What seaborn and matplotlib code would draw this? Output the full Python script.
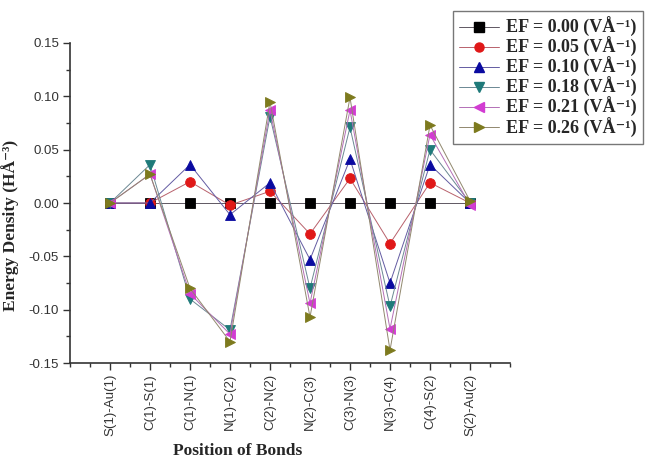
import numpy as np
import pandas as pd
import matplotlib
matplotlib.use("Agg")
import matplotlib.pyplot as plt
from matplotlib.lines import Line2D
from matplotlib.ticker import MultipleLocator
import matplotlib.colors as mcolors
import seaborn as sns

bonds = ["S(1)-Au(1)", "C(1)-S(1)", "C(1)-N(1)", "N(1)-C(2)", "C(2)-N(2)",
         "N(2)-C(3)", "C(3)-N(3)", "N(3)-C(4)", "C(4)-S(2)", "S(2)-Au(2)"]

ef_labels = ["0.00", "0.05", "0.10", "0.18", "0.21", "0.26"]

ef_000 = [0.000, 0.000, 0.000, 0.000, 0.000, 0.000, 0.000, 0.000, 0.000, 0.000]
ef_005 = [0.000, 0.000, 0.020, -0.002, 0.011, -0.029, 0.023, -0.038, 0.019, 0.000]
ef_010 = [0.000, 0.000, 0.036, -0.011, 0.019, -0.053, 0.041, -0.075, 0.036, 0.000]
ef_018 = [0.000, 0.036, -0.090, -0.119, 0.081, -0.080, 0.071, -0.097, 0.050, 0.000]
ef_021 = [0.000, 0.027, -0.085, -0.123, 0.087, -0.094, 0.087, -0.118, 0.064, -0.002]
ef_026 = [0.000, 0.027, -0.080, -0.130, 0.095, -0.107, 0.099, -0.138, 0.073, 0.002]

series = [ef_000, ef_005, ef_010, ef_018, ef_021, ef_026]
colors = ["#000000", "#e01818", "#0a0aa0", "#1f7a7a", "#d23cd2", "#7d7a1e"]
markers = ["s", "o", "^", "v", "<", ">"]

sns.set_theme(style="white")
plt.rcParams["font.family"] = ["Liberation Sans", "DejaVu Sans"]

fig = plt.figure(figsize=(6.52, 4.61), dpi=100)
ax = fig.add_axes([70 / 652, 1 - 363 / 461, 440 / 652, 320 / 461])

x = np.arange(len(bonds))
handles = []
for lab, vals, col, mk in zip(ef_labels, series, colors, markers):
    df = pd.DataFrame({"pos": x, "energy": vals})
    line_col = mcolors.to_hex(0.4 * np.array(mcolors.to_rgb(col)) + 0.6 * np.array([0.62, 0.57, 0.64]))
    sns.lineplot(data=df, x="pos", y="energy", ax=ax, color=line_col, lw=0.7,
                 marker=mk, markersize=7, markerfacecolor=col, markeredgecolor=col,
                 markeredgewidth=0.6)
    handles.append(Line2D([], [], color=line_col, lw=0.7, marker=mk, markersize=6.5,
                          markerfacecolor=col, markeredgecolor=col,
                          label="EF = %s (VÅ⁻¹)" % lab))

ax.set_xlim(-1, 10)
ax.set_ylim(-0.15, 0.15)
ax.set_xticks(x)
ax.set_xticklabels(bonds, rotation=90, fontsize=9.5)
ax.xaxis.set_minor_locator(MultipleLocator(0.5))
ax.yaxis.set_major_locator(MultipleLocator(0.05))
ax.yaxis.set_minor_locator(MultipleLocator(0.025))
ax.set_yticks(np.round(np.arange(-0.15, 0.151, 0.05), 2))
ax.set_yticklabels(["%.2f" % v for v in np.arange(-0.15, 0.151, 0.05)], fontsize=9.5)

for s in ["top", "right"]:
    ax.spines[s].set_visible(False)
for s in ["left", "bottom"]:
    ax.spines[s].set_color("#333333")
    ax.spines[s].set_linewidth(1.2)

ax.tick_params(axis="both", which="major", direction="out", length=5, width=1,
               color="#333333", left=True, bottom=True, pad=3, labelcolor="#333333")
ax.tick_params(axis="both", which="minor", direction="out", length=3, width=1,
               color="#333333", left=True, bottom=True)

serif_bold = dict(family=["Liberation Serif", "DejaVu Serif"], weight="bold")
ax.set_xlabel("Position of Bonds", fontsize=12.5, **serif_bold)
ax.set_ylabel("Energy Density (HÅ⁻³)", fontsize=12.5, **serif_bold)
ax.xaxis.set_label_coords(0.38, -0.25)
ax.yaxis.set_label_coords(-0.115, 0.43)

leg = fig.legend(handles=handles, loc="upper left",
                 bbox_to_anchor=(453 / 652, 1 - 11 / 461),
                 prop=dict(family=["Liberation Serif", "DejaVu Serif"], weight="bold", size=13),
                 frameon=True, fancybox=False, handlelength=2.2, handletextpad=0.4,
                 labelspacing=0.0, borderpad=0.35, borderaxespad=0)
leg.get_frame().set_edgecolor("#555555")
leg.get_frame().set_linewidth(1.0)

fig.savefig("out.png", dpi=100)
